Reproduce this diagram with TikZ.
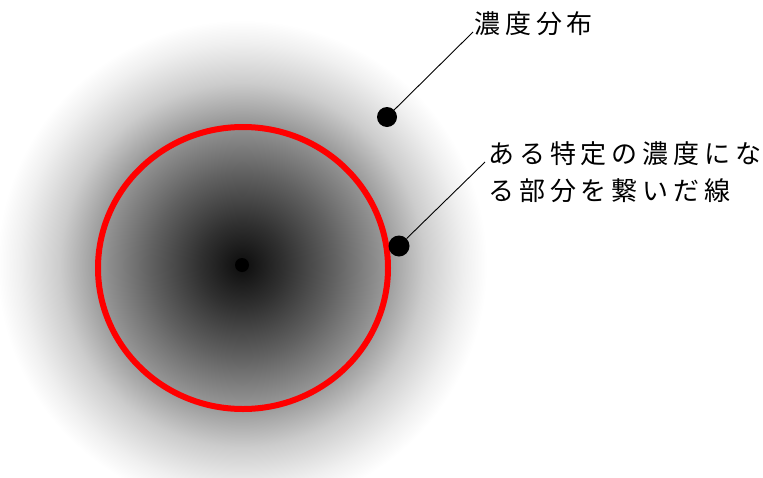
\documentclass[tikz,border=0pt]{standalone}
\usepackage{fontspec}
\newfontfamily\jpfont[LetterSpace=19]{Noto Sans CJK JP}
\pgfdeclareradialshading{conc}{\pgfpoint{0bp}{0bp}}{color(0bp)=(black!95); color(4.3bp)=(black!81); color(9.4bp)=(black!62); color(14.3bp)=(black!42); color(18.6bp)=(black!20); color(20.9bp)=(black!12); color(22.7bp)=(black!6); color(25bp)=(white); color(50bp)=(white)}
\tikzset{
  dotmark/.style={circle, fill=black, inner sep=0pt, minimum size=#1},
  leader/.style={draw=black, line width=0.9pt},
  labeltext/.style={font=\jpfont\fontsize{26}{38}\selectfont, inner sep=0pt, anchor=base west},
  contourline/.style={draw=red, line width=6pt}
}
\begin{document}
\begin{tikzpicture}[x=1pt,y=-1pt]
  \useasboundingbox (0,0) rectangle (763,477);
  \clip (0,0) rectangle (763,477);
  \fill[white] (0,0) rectangle (763,477);
  \shade[shading=conc] (242,265) circle [radius=245];
  \draw[contourline] (243,268) ellipse [x radius=145, y radius=141];
  \node[dotmark=14pt] (c) at (242,265) {};
  \node[dotmark=20pt] (d1) at (387,117) {};
  \node[dotmark=21pt] (d2) at (399,246) {};
  \node[labeltext] (t1) at (474,33) {濃度分布};
  \node[labeltext] (t2a) at (488,163) {ある特定の濃度にな};
  \node[labeltext] (t2b) at (488,200) {る部分を繋いだ線};
  \coordinate (e1) at (473,32);
  \coordinate (e2) at (485,162);
  \draw[leader] (d1) -- (e1);
  \draw[leader] (d2) -- (e2);
\end{tikzpicture}
\end{document}
